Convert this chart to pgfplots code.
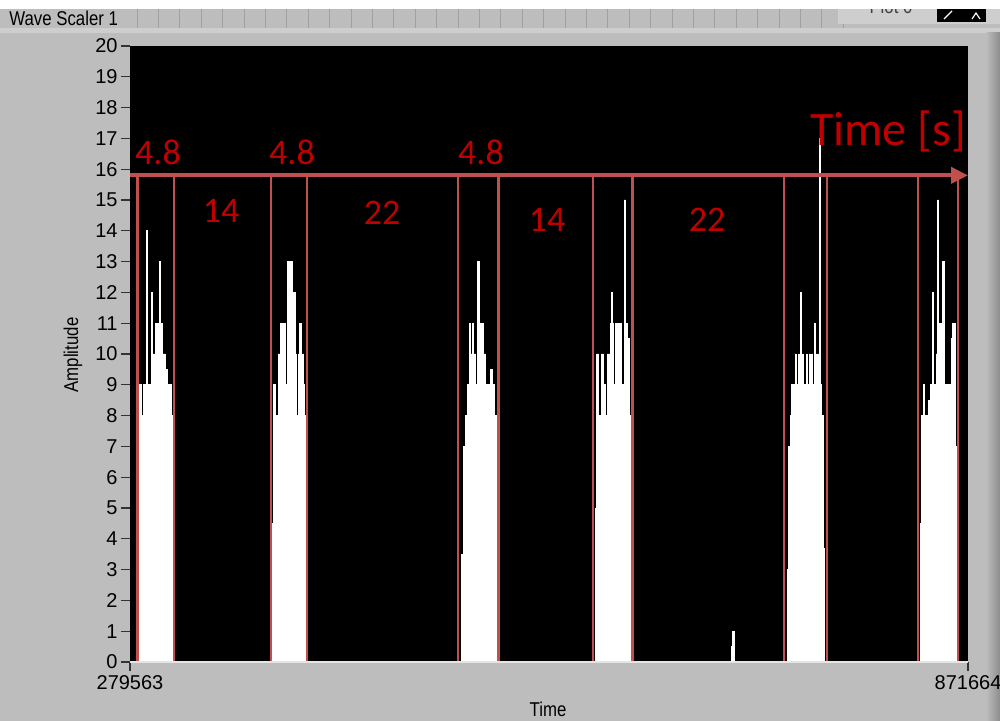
\documentclass[border=0pt]{standalone}
\usepackage{fontspec}
\setmainfont{Liberation Sans}
\newfontfamily\carlito{Carlito}
\usepackage{pgfplots}
\pgfplotsset{compat=1.18}
\usetikzlibrary{arrows.meta}
\definecolor{panel}{RGB}{189,189,189}
\definecolor{panellight}{RGB}{206,206,206}
\definecolor{rulerline}{RGB}{160,160,160}
\definecolor{redline}{RGB}{192,80,77}
\definecolor{redtext}{RGB}{192,0,0}
\newcommand\nar[1]{\scalebox{0.84}[1]{#1}}
\begin{document}
\begin{tikzpicture}
\begin{scope}[shift={(-65pt,-29.5pt)}, x=1pt, y=1pt]
\useasboundingbox (0,0) rectangle (500,360.5);
\fill[panel] (0,0) rectangle (500,360.5);
% title bar with ruler lines
\fill[panel] (0,346.5) rectangle (500,356);
\foreach \i in {0,...,33} {\draw[rulerline, line width=0.5pt] ({68.5+\i*10.7},346.5) -- ({68.5+\i*10.7},356);}
\fill[panellight] (0,344) rectangle (500,346.5);
% legend box top right
\fill[panellight] (419,348.5) rectangle (500,356);
\begin{scope}
\clip (419,348.5) rectangle (500,356);
\node[anchor=center, font=\fontsize{10}{12}\selectfont, text=black!75] at (445.5,357.5) {\nar{Plot 0}};
\end{scope}
\fill[black] (468.5,349.5) rectangle (493,356);
\draw[white, line width=0.6pt] (472,351) -- (476,355);
\draw[white, line width=0.6pt] (486,351) -- (488,354) -- (490,351);
\fill[white] (0,356) rectangle (500,360.5);
% right frame edge
\shade[left color=panel, right color=black!45] (493,0) rectangle (500,344);
% title
\node[anchor=west, font=\fontsize{10}{12}\selectfont, inner sep=0pt] at (4.5,351.3) {\nar{Wave Scaler 1}};
% axis labels
\node[rotate=90, font=\fontsize{10}{12}\selectfont] at (36.5,183) {\nar{Amplitude}};
\node[font=\fontsize{10}{12}\selectfont] at (274,6) {\nar{Time}};
\end{scope}
\begin{axis}[
  at={(0pt,0pt)}, anchor=south west,
  scale only axis, width=419pt, height=308pt,
  xmin=279563, xmax=871664, ymin=0, ymax=20,
  axis background/.style={fill=black},
  axis line style={draw=none},
  clip=false,
  ytick={0,1,...,20},
  xtick={279563,871664},
  xticklabels={279563,871664},
  scaled x ticks=false,
  tick align=outside,
  major tick length=4.5pt,
  tick style={black!80, line width=0.6pt},
  xtick pos=bottom, ytick pos=left,
  /pgf/number format/assume math mode=true,
  yticklabel style={font=\fontsize{10}{12}\selectfont, inner sep=1.5pt},
  xticklabel style={font=\fontsize{10}{12}\selectfont, inner sep=2pt},
]
% signal
\addplot[const plot, fill=white, draw=white, line width=0.3pt] coordinates {
(285427,4.5) (286134,9) (287335,8) (288748,9) (291363,14) (292069,9) (294895,12) (295602,10) (297722,11) (300265,13) (300972,11) (302385,10) (304787,9.5) (306200,9) (308532,8) (309733,7) (310652,0)
(379683,4.5) (380602,9) (382015,7) (382933,8) (384346,10) (385548,11) (389575,9) (390494,13) (391907,11.5) (392825,13) (394238,12) (396146,10) (397347,8) (398478,10) (399467,11) (400880,10) (402293,9) (403000,8) (403706,0)
(513930,3.5) (514849,7) (516262,8) (517675,9) (519088,11) (519795,10) (521420,11) (522126,10) (523822,9) (525235,13) (526154,11) (529192,10) (530393,9) (534138,9.5) (535551,9) (536964,8) (538660,6) (539791,0)
(608115,5) (609316,10) (610447,8) (612355,10) (613980,9) (615393,8) (616806,10) (618714,11) (619915,12) (620621,11) (621045,9) (622459,11) (626981,9) (628606,15) (629807,11) (630937,10.5) (632350,8) (633340,6) (634470,0)
(704208,0.5) (705268,1) (706328,0)
(743988,3) (744694,7) (745895,8) (747096,9) (749428,10) (750135,9) (751760,10) (752466,9) (753455,12) (754162,9) (754869,10) (755575,9) (757200,10) (757907,9) (759532,10) (760239,9) (761228,10) (761934,9) (763065,11) (764054,9) (764761,10) (765679,9) (766598,17) (767587,9) (768293,8) (769424,3.7) (770413,0)
(837961,4.5) (838667,8) (839868,9) (841069,8) (843896,8.5) (845026,9) (846722,12) (847429,9) (849054,10) (849972,15) (850961,11) (853788,13) (854706,9) (859864,10.5) (860853,11) (862690,7) (863680,3.5) (864103,0)
} \closedcycle;
% red interval markers
\addplot[ycomb, redline, line width=1.2pt, mark=none] coordinates {
(284721,15.8) (310652,15.8) (379189,15.8) (404413,15.8) (511104,15.8) (539791,15.8)
(606490,15.8) (634470,15.8) (741656,15.8) (771826,15.8) (836335,15.8) (864598,15.8)
};
\draw[redline, line width=2pt, -{Triangle[length=8.5pt,width=8pt]}] (axis cs:279563,15.8) -- (axis cs:871664,15.8);
\begin{scope}[every node/.style={text=redtext, font=\carlito\fontsize{18}{20}\selectfont}]
\node at (axis cs:299347,16.56) {4.8};
\node at (axis cs:394027,16.56) {4.8};
\node at (axis cs:527567,16.56) {4.8};
\node at (axis cs:343860,14.64) {14};
\node at (axis cs:457617,14.58) {22};
\node at (axis cs:574200,14.35) {14};
\node at (axis cs:687250,14.35) {22};
\node[font=\carlito\fontsize{24}{28}\selectfont] at (axis cs:815139,17.24) {Time [s]};
\end{scope}
\draw[white!80!gray, line width=1pt] (rel axis cs:0,0) -- (rel axis cs:1,0);
\end{axis}
\pgfresetboundingbox
\useasboundingbox (-65pt,-29.5pt) rectangle (435pt,331pt);
\end{tikzpicture}
\end{document}
